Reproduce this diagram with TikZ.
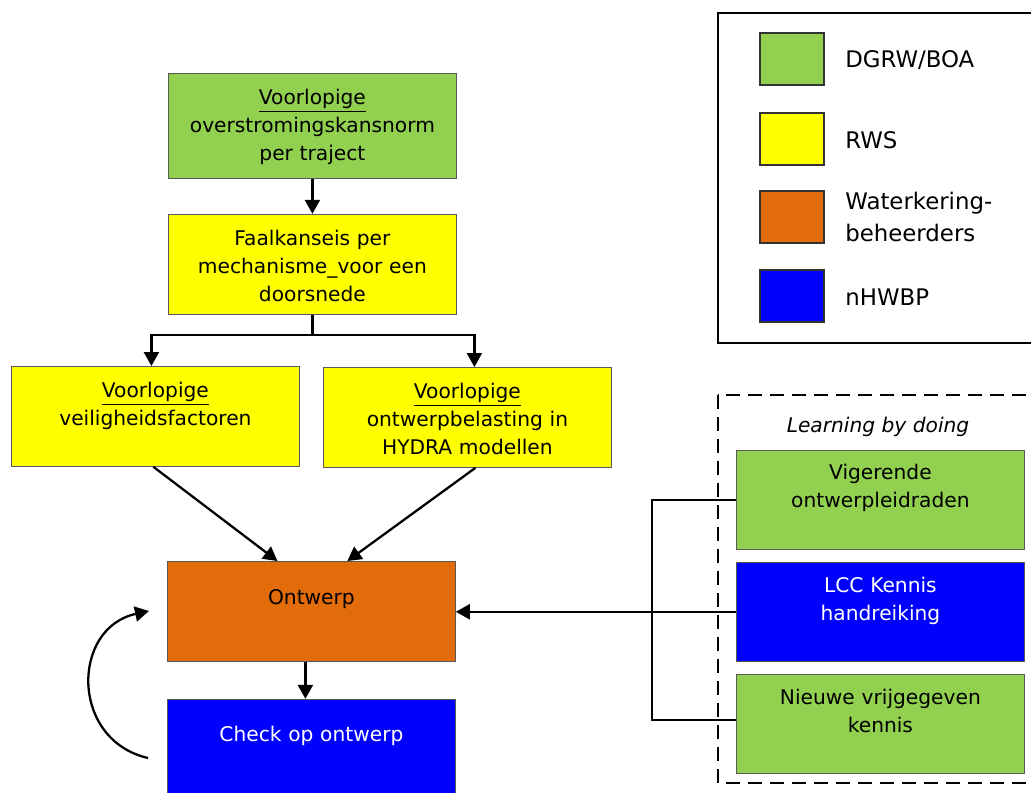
\documentclass[tikz,border=0pt]{standalone}
\usepackage{fontspec}
\setmainfont{DejaVu Sans}
\usepackage{tikz}
\usetikzlibrary{arrows.meta}
\usetikzlibrary{positioning}
\definecolor{groen}{RGB}{146,208,80}
\definecolor{geel}{RGB}{255,255,0}
\definecolor{oranje}{RGB}{227,108,10}
\definecolor{blauw}{RGB}{0,0,255}
\tikzset{stap/.style = {draw = black!65, line width = 0.5pt, text width = 5.4cm, align = center,
    inner xsep = 0.18cm, inner ysep = 0pt, text height = 0.62cm, text depth = 1.38cm,
    font = \fontsize{11.5}{15.9}\selectfont}}
\tikzset{pijl/.style = {-{Triangle[length = 0.28cm, width = 0.3cm]}, line width = 1.3pt}}
\tikzset{lijn/.style = {line width = 1.3pt}}
\tikzset{vakje/.style = {draw = black!80, line width = 0.6pt, minimum width = 1.28cm, minimum height = 1.04cm}}
\tikzset{legtekst/.style = {anchor = west, align = left, inner sep = 0, font = \fontsize{13}{18}\selectfont}}

\begin{document}
\begin{tikzpicture}[x = 0.02cm, y = -0.02cm]
    \useasboundingbox (0, 0) rectangle (1031, 793);

    \node [stap, fill=groen, anchor=north west, text depth=1.48cm] (norm) at (168, 73)
        {\underline{Voorlopige}\\overstromingskansnorm\\per traject};
    \node [stap, fill=geel, below=0.7cm of norm] (faalkans)
        {Faalkanseis per\\mechanisme\_voor een\\doorsnede};

    \node [stap, fill=geel, anchor=north west] (veilig) at (11, 366)
        {\underline{Voorlopige}\\veiligheidsfactoren};
    \node [stap, fill=geel, anchor=north west] (belasting) at (323, 367)
        {\underline{Voorlopige}\\ontwerpbelasting in\\HYDRA modellen};

    \node [stap, fill=oranje, anchor=north west, text height=0.86cm, text depth=1.14cm] (ontwerp) at (167, 561)
        {Ontwerp};
    \node [stap, fill=blauw, text=white, below=0.74cm of ontwerp, text height=0.84cm, text depth=1.6cm] (check)
        {Check op ontwerp};

    \draw [pijl] (norm) -- (faalkans);
    \draw [lijn] (faalkans.south) -- ++(0, 20) coordinate (splits);
    \draw [pijl] (splits) -| ([xshift=-0.08cm]veilig.north);
    \draw [pijl] (splits) -| ([xshift=0.14cm]belasting.north);

    \draw [pijl] ([xshift=-0.04cm]veilig.south) -- ([xshift=-0.68cm]ontwerp.north);
    \draw [pijl] ([xshift=0.16cm]belasting.south) -- ([xshift=0.72cm]ontwerp.north);
    \draw [pijl] ([xshift=-0.12cm]ontwerp.south) -- ([xshift=-0.12cm]check.north);

    % terugkoppeling
    \coordinate (lusbegin) at (148, 758);
    \coordinate (luseind) at (149, 611);
    \draw [pijl] (lusbegin) .. controls (70, 740) and (71, 628) .. (luseind);

    % learning by doing
    \draw [line width=1.6pt, dash pattern=on 0.28cm off 0.16cm] (718, 395) rectangle (1045, 783);
    \node [font=\fontsize{11.5}{14}\selectfont\itshape] (lbd) at (878, 427) {Learning by doing};

    \node [stap, fill=groen, anchor=north west, text height=0.58cm, text depth=1.4cm] (vigerend) at (736, 450)
        {Vigerende\\ontwerpleidraden};
    \node [stap, fill=blauw, text=white, below=0.24cm of vigerend, text height=0.6cm, text depth=1.38cm] (lcc)
        {LCC Kennis\\handreiking};
    \node [stap, fill=groen, below=0.24cm of lcc, text height=0.6cm, text depth=1.38cm] (nieuw)
        {Nieuwe vrijgegeven\\kennis};

    \draw [lijn] (vigerend.west) -- ++(-84, 0) coordinate (knik) |- ([yshift=0.08cm]nieuw.west);
    \draw [pijl] (lcc.west) -- (lcc.west -| ontwerp.east);

    % legenda
    \draw [line width=1.4pt] (718, 13) rectangle (1045, 343);
    \node [vakje, fill=groen] (leg1) at (792, 59) {};
    \node [vakje, fill=geel] (leg2) at (792, 139) {};
    \node [vakje, fill=oranje] (leg3) at (792, 217) {};
    \node [vakje, fill=blauw] (leg4) at (792, 296) {};
    \node [legtekst] (dgrw) at (845, 60) {DGRW/BOA};
    \node [legtekst] (rws) at (845, 140) {RWS};
    \node [legtekst] (wkb) at (845, 217) {Waterkering-\\beheerders};
    \node [legtekst] (hwbp) at (845, 297) {nHWBP};

  \end{tikzpicture}
\end{document}
